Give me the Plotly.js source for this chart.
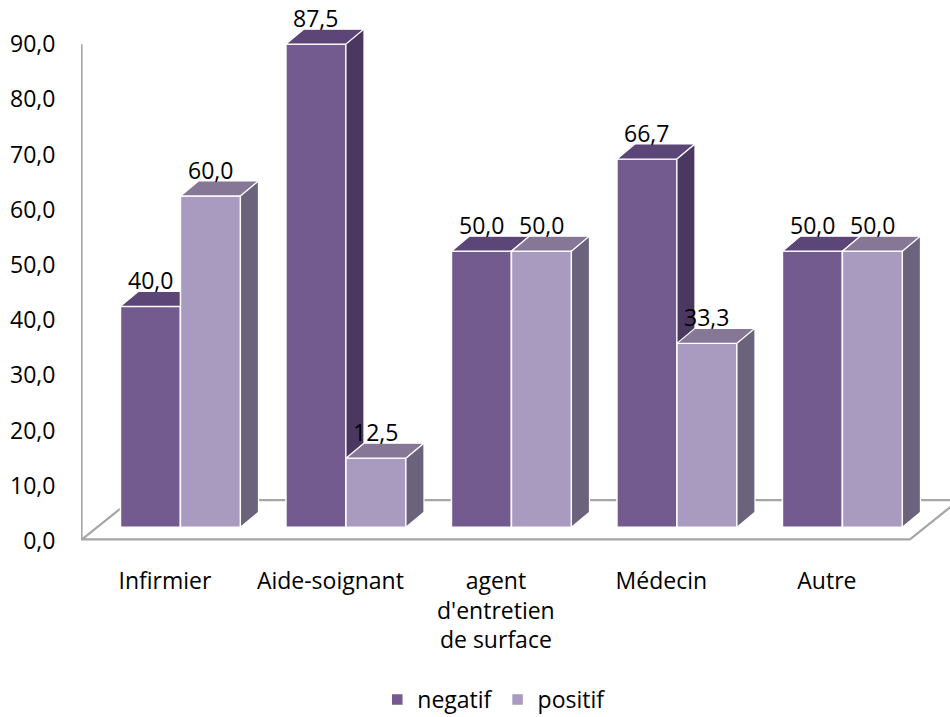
<!DOCTYPE html>
<html>
<head>
<meta charset="utf-8">
<script src="https://cdn.plot.ly/plotly-3.0.1.min.js"></script>
<style>html,body{margin:0;padding:0;background:#fff;}#chart{width:950px;height:717px;}</style>
</head>
<body>
<div id="chart"></div>
<script>
// ---- data ----
const categories = ['Infirmier', 'Aide-soignant', "agent<br>d'entretien<br>de surface", 'Médecin', 'Autre'];
const negatif = [40.0, 87.5, 50.0, 66.7, 50.0];
const positif = [60.0, 12.5, 50.0, 33.3, 50.0];
const yTicks = [0, 10, 20, 30, 40, 50, 60, 70, 80, 90];
const seriesNames = ['negatif', 'positif'];

// ---- styling / geometry (in axis units) ----
const FONT = 'Open Sans, Lato, sans-serif';
const FS = 23;
const W = 0.3625;      // width of one bar
const BASE = 2.5;      // bars stand slightly in front of the floor
const DX = 0.109;      // depth offset (x)
const DY = 2.72;       // depth offset (y)
const colors = {
  negatif: {front: '#735A8F', top: '#5C4677', side: '#4A3860'},
  positif: {front: '#A99ABF', top: '#857795', side: '#6B627C'}
};
const xIdx = categories.map((_, i) => i);

function faces(vals, off) {
  const top = {x: [], y: []}, side = {x: [], y: []};
  vals.forEach((v, i) => {
    const x0 = i + off, x1 = x0 + W, t = BASE + v;
    top.x.push(x0, x1, x1 + DX, x0 + DX, x0, null);
    top.y.push(t, t, t + DY, t + DY, t, null);
    side.x.push(x1, x1 + DX, x1 + DX, x1, x1, null);
    side.y.push(BASE, BASE + DY, t + DY, t, BASE, null);
  });
  return {top, side};
}

function series(name, vals, off, xa, ya) {
  const c = colors[name];
  const f = faces(vals, off);
  return [
    {type: 'bar', name: name, x: xIdx, y: vals, base: BASE, width: W, offset: off,
     marker: {color: c.front, line: {color: '#ffffff', width: 1.5}},
     xaxis: xa, yaxis: ya, hoverinfo: 'skip'},
    {type: 'scatter', mode: 'lines', x: f.top.x, y: f.top.y, fill: 'toself', fillcolor: c.top,
     line: {color: '#ffffff', width: 1.2}, showlegend: false, hoverinfo: 'skip', xaxis: xa, yaxis: ya},
    {type: 'scatter', mode: 'lines', x: f.side.x, y: f.side.y, fill: 'toself', fillcolor: c.side,
     line: {color: '#ffffff', width: 1.2}, showlegend: false, hoverinfo: 'skip', xaxis: xa, yaxis: ya}
  ];
}

const data = [].concat(
  series('negatif', negatif, -W, 'x', 'y'),
  series('positif', positif, 0, 'x2', 'y2')
);

const annotations = [];
[[negatif, -W / 2], [positif, W / 2]].forEach(([vals, off]) => {
  vals.forEach((v, i) => {
    annotations.push({
      x: i + off, y: BASE + v + DY, xref: 'x', yref: 'y',
      text: v.toFixed(1).replace('.', ','), showarrow: false,
      yanchor: 'middle', yshift: 11,
      font: {family: FONT, size: FS, color: '#000'}
    });
  });
});

const XR = [-0.601, 4.650];
const YR = [0, 98.0];
const floorFront = 0.3, floorBack = 7.4, floorDX = 0.296;
const shapes = [
  {type: 'path', xref: 'x', yref: 'y', layer: 'below',
   path: `M ${XR[0] + 0.006} ${floorFront} L ${4.408} ${floorFront} L ${4.408 + floorDX} ${floorBack} L ${XR[0] + 0.006 + floorDX} ${floorBack} Z`,
   fillcolor: '#ffffff', line: {color: '#A6A6A6', width: 2.2}},
  {type: 'line', xref: 'x', yref: 'y', layer: 'below',
   x0: XR[0] + 0.003, x1: XR[0] + 0.003, y0: floorFront, y1: 90,
   line: {color: '#A6A6A6', width: 2.2}}
];

const layout = {
  width: 950, height: 717,
  margin: {l: 81, r: 0, t: 0, b: 176, autoexpand: false},
  paper_bgcolor: '#ffffff', plot_bgcolor: 'rgba(0,0,0,0)',
  separators: ', ',
  font: {family: FONT, size: FS, color: '#000'},
  showlegend: true,
  legend: {orientation: 'h', x: 0.475, xanchor: 'center', y: -0.293, yanchor: 'middle',
           font: {family: FONT, size: FS, color: '#000'}, itemwidth: 30, traceorder: 'normal'},
  xaxis: {range: XR, showgrid: false, zeroline: false, showline: false,
          tickmode: 'array', tickvals: xIdx.map(i => i - 0.094), ticktext: categories,
          ticks: 'outside', ticklen: 19, tickcolor: 'rgba(0,0,0,0)',
          tickfont: {family: FONT, size: FS, color: '#000'}, fixedrange: true},
  yaxis: {range: YR, showgrid: false, zeroline: false, showline: false,
          tickmode: 'array', tickvals: yTicks, tickformat: '.1f',
          ticks: 'outside', ticklen: 20, tickcolor: 'rgba(0,0,0,0)',
          tickfont: {family: FONT, size: FS, color: '#000'}, fixedrange: true},
  xaxis2: {range: XR, overlaying: 'x', visible: false, fixedrange: true},
  yaxis2: {range: YR, overlaying: 'y', visible: false, fixedrange: true},
  shapes: shapes,
  annotations: annotations
};

Plotly.newPlot('chart', data, layout, {displayModeBar: false, staticPlot: true});
</script>
</body>
</html>
